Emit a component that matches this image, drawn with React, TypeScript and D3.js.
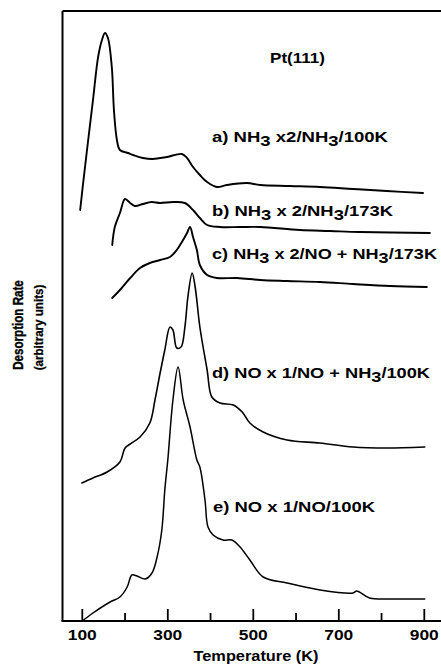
import React, { useEffect, useRef } from "react";
import * as d3 from "d3";

// temperatures (K) and desorption rate (arbitrary units, offset per trace)
const aTemp = [95, 102, 111, 125, 137, 146, 153, 160, 169, 174, 181, 188, 207, 219, 242, 265, 298, 333, 345, 359, 375, 392, 415, 438, 485, 516, 586, 656, 733, 812, 897];
const aRate = [411, 438, 471, 521, 564, 581, 588, 583, 554, 511, 481, 471, 468, 466, 463, 462, 464, 467, 463, 454, 446, 439, 434, 436, 438, 436, 435, 434, 432, 430, 428];

const bTemp = [170, 176, 188, 200, 212, 223, 242, 262, 282, 312, 340, 359, 375, 392, 422, 469, 516, 609, 680, 749, 913];
const bRate = [376, 394, 408, 422, 418, 415, 417, 419, 418, 419, 418, 411, 403, 396, 394, 394, 394, 391, 390, 389, 388];

const cTemp = [170, 188, 212, 235, 258, 282, 305, 321, 333, 345, 352, 359, 368, 375, 392, 415, 462, 516, 579, 656, 733, 820, 906];
const cRate = [323, 331, 343, 353, 358, 361, 364, 371, 379, 388, 394, 384, 371, 356, 346, 343, 343, 341, 340, 339, 337, 335, 334];

const dTemp = [99, 125, 158, 188, 200, 212, 235, 258, 270, 282, 293, 305, 312, 321, 331, 340, 347, 357, 364, 375, 392, 403, 422, 453, 474, 492, 523, 579, 656, 733, 812, 901];
const dRate = [138, 143, 149, 159, 173, 177, 184, 198, 221, 248, 271, 294, 291, 273, 274, 294, 324, 348, 334, 294, 251, 224, 218, 216, 209, 198, 189, 181, 178, 174, 173, 174];

const eTemp = [100, 125, 165, 188, 205, 216, 228, 247, 263, 275, 286, 293, 300, 312, 324, 336, 352, 368, 375, 387, 394, 406, 429, 450, 469, 492, 523, 579, 656, 733, 742, 772, 826, 901];
const eRate = [0, 8, 19, 24, 34, 46, 45, 42, 48, 64, 91, 131, 161, 221, 254, 221, 194, 161, 154, 121, 94, 86, 81, 81, 74, 61, 44, 38, 31, 28, 30, 23, 22, 22];

const majorTicks = [100, 300, 500, 700, 900];
const minorTicks = [200, 400, 600, 800];

// label text parts: odd entries are subscripts
const labelA = ["a) NH", "3", " x2/NH", "3", "/100K"];
const labelB = ["b) NH", "3", " x 2/NH", "3", "/173K"];
const labelC = ["c) NH", "3", " x 2/NO + NH", "3", "/173K"];
const labelD = ["d) NO x 1/NO + NH", "3", "/100K"];
const labelE = ["e) NO x 1/NO/100K"];

const FONT = "'Liberation Sans', Arial, Helvetica, sans-serif";

export default function App() {
  const ref = useRef<SVGSVGElement>(null);

  useEffect(() => {
    const svg = d3.select(ref.current);
    svg.selectAll("*").remove();

    const x = d3.scaleLinear().domain([100, 900]).range([82.3, 424.3]);
    const y = d3.scaleLinear().domain([0, 610]).range([621, 11]);

    const left = 62.5;
    const top = 11;
    const bottom = 621;

    // frame
    svg.append("line").attr("x1", left).attr("x2", 441).attr("y1", top).attr("y2", top)
      .attr("stroke", "#000").attr("stroke-width", 2);
    svg.append("line").attr("x1", left).attr("x2", left).attr("y1", top).attr("y2", bottom)
      .attr("stroke", "#000").attr("stroke-width", 2);
    svg.append("line").attr("x1", left - 1).attr("x2", 441).attr("y1", bottom).attr("y2", bottom)
      .attr("stroke", "#000").attr("stroke-width", 2);

    // ticks pointing inward
    svg.selectAll(".major").data(majorTicks).enter().append("line")
      .attr("x1", (d) => x(d)).attr("x2", (d) => x(d))
      .attr("y1", bottom).attr("y2", bottom - 12)
      .attr("stroke", "#000").attr("stroke-width", 1.8);
    svg.selectAll(".minor").data(minorTicks).enter().append("line")
      .attr("x1", (d) => x(d)).attr("x2", (d) => x(d))
      .attr("y1", bottom).attr("y2", bottom - 8)
      .attr("stroke", "#000").attr("stroke-width", 1.8);

    svg.selectAll(".tick-label").data(majorTicks).enter().append("text")
      .attr("x", (d) => x(d)).attr("y", 640)
      .attr("text-anchor", "middle")
      .attr("font-family", FONT).attr("font-weight", "bold").attr("font-size", 15.5)
      .attr("textLength", 29).attr("lengthAdjust", "spacingAndGlyphs")
      .text((d) => d);

    svg.append("text")
      .attr("x", 256).attr("y", 661)
      .attr("text-anchor", "middle")
      .attr("font-family", FONT).attr("font-weight", "bold").attr("font-size", 15.5)
      .attr("textLength", 125).attr("lengthAdjust", "spacingAndGlyphs")
      .text("Temperature (K)");

    // rotated y label, squeezed along the text direction
    svg.append("text")
      .attr("transform", "translate(23,325) rotate(-90) scale(0.8,1)")
      .attr("text-anchor", "middle")
      .attr("font-family", FONT).attr("font-weight", "bold").attr("font-size", 14.5)
      .attr("stroke", "#000").attr("stroke-width", 0.4)
      .text("Desorption Rate");
    svg.append("text")
      .attr("transform", "translate(43,327.5) rotate(-90) scale(0.86,1)")
      .attr("text-anchor", "middle")
      .attr("font-family", FONT).attr("font-weight", "bold").attr("font-size", 13.5)
      .attr("stroke", "#000").attr("stroke-width", 0.3)
      .text("(arbitrary units)");

    // traces
    const line = d3.line<[number, number]>()
      .x((d) => x(d[0]))
      .y((d) => y(d[1]))
      .curve(d3.curveCatmullRom.alpha(0.5));

    const traces = [
      { t: aTemp, r: aRate, w: 1.9 },
      { t: bTemp, r: bRate, w: 1.9 },
      { t: cTemp, r: cRate, w: 1.9 },
      { t: dTemp, r: dRate, w: 1.6 },
      { t: eTemp, r: eRate, w: 1.5 },
    ];
    traces.forEach((tr) => {
      const pts = tr.t.map((t, i) => [t, tr.r[i]] as [number, number]);
      svg.append("path")
        .attr("d", line(pts))
        .attr("fill", "none")
        .attr("stroke", "#000")
        .attr("stroke-width", tr.w)
        .attr("stroke-linejoin", "round")
        .attr("stroke-linecap", "round");
    });

    // labels
    svg.append("text")
      .attr("x", 270).attr("y", 63)
      .attr("font-family", FONT).attr("font-weight", "bold").attr("font-size", 15)
      .attr("textLength", 55).attr("lengthAdjust", "spacingAndGlyphs")
      .text("Pt(111)");

    const labels = [
      { parts: labelA, x: 212, y: 142, len: 176 },
      { parts: labelB, x: 212, y: 216, len: 181 },
      { parts: labelC, x: 212, y: 259, len: 225 },
      { parts: labelD, x: 212, y: 378, len: 218 },
      { parts: labelE, x: 213, y: 512, len: 162 },
    ];
    labels.forEach((lb) => {
      const txt = svg.append("text")
        .attr("x", lb.x).attr("y", lb.y)
        .attr("font-family", FONT).attr("font-weight", "bold").attr("font-size", 15)
        .attr("textLength", lb.len).attr("lengthAdjust", "spacingAndGlyphs");
      lb.parts.forEach((p, i) => {
        const sub = i % 2 === 1;
        txt.append("tspan")
          .attr("dy", sub ? 4 : i > 0 ? -4 : 0)
          .text(p);
      });
    });
  }, []);

  return (
    <svg
      ref={ref}
      width={441}
      height={664}
      style={{ position: "absolute", left: 0, top: 0, background: "#fff" }}
    />
  );
}
